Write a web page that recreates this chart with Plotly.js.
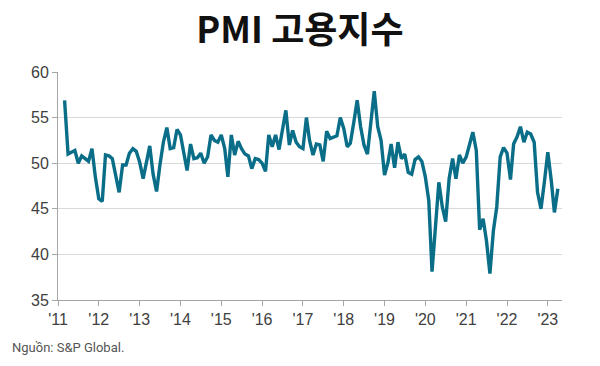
<!DOCTYPE html>
<html>
<head>
<meta charset="utf-8">
<script src="https://cdn.plot.ly/plotly-3.0.1.min.js"></script>
<style>
html,body{margin:0;padding:0;background:#fff;}
#chart{width:600px;height:366px;}
</style>
</head>
<body>
<div id="chart"></div>
<script>
// Monthly PMI employment index, starting March 2011
const startYear = 2011;
const startMonth = 3; // March
const values = [
  56.9, 51.0, 51.2, 51.4, 50.0, 50.8, 50.5, 50.2, 51.6, 48.5,
  46.1, 45.8, 50.9, 50.8, 50.5, 48.6, 46.8, 49.8, 49.8, 51.1, 51.6, 51.3, 50.1, 48.3,
  50.0, 51.9, 48.8, 46.9, 49.8, 52.3, 53.9, 51.6, 51.7, 53.7, 53.1, 51.2,
  49.2, 52.1, 50.5, 50.6, 51.1, 50.0, 50.7, 53.1, 52.5, 52.3, 53.1, 51.6,
  48.5, 53.1, 50.9, 52.4, 51.6, 51.0, 50.8, 49.4, 50.5, 50.4, 50.0, 49.1,
  53.1, 51.8, 53.1, 51.5, 53.5, 55.8, 52.0, 53.6, 52.3, 51.8, 51.6, 55.0,
  52.5, 50.9, 52.1, 52.0, 50.2, 53.5, 52.7, 52.8, 53.0, 55.0, 53.8, 51.8,
  52.2, 54.5, 56.9, 54.0, 52.0, 51.0, 54.8, 57.9, 54.0, 52.5, 48.7, 50.1,
  52.1, 49.5, 52.3, 50.5, 51.0, 49.0, 48.8, 50.4, 50.7, 50.2, 48.5, 45.9,
  38.1, 43.5, 47.9, 45.2, 43.6, 48.3, 50.5, 48.3, 50.9, 50.0, 50.7, 52.1,
  53.4, 51.4, 42.7, 43.9, 41.5, 37.9, 42.6, 45.2, 50.7, 51.7, 51.1, 48.2,
  52.1, 52.9, 54.0, 52.3, 53.4, 53.2, 52.3, 46.8, 45.0, 47.9, 51.2, 48.1,
  44.6, 47.2
];
const tickYears = [2011,2012,2013,2014,2015,2016,2017,2018,2019,2020,2021,2022,2023];
const tickLabels = ["'11","'12","'13","'14","'15","'16","'17","'18","'19","'20","'21","'22","'23"];
const yTicks = [35,40,45,50,55,60];

function monthDate(i){
  const m0 = startMonth - 1 + i;
  const y = startYear + Math.floor(m0/12);
  const m = (m0 % 12) + 1;
  return y + '-' + String(m).padStart(2,'0') + '-01';
}
const dates = values.map((v,i)=>monthDate(i));
const tickVals = tickYears.map(y=>y+'-01-01');

const trace = {
  x: dates, y: values, type: 'scatter', mode: 'lines',
  line: {color: '#0a6e88', width: 3.4},
  hoverinfo: 'x+y'
};

const layout = {
  width: 600, height: 366,
  margin: {l: 58, r: 38, t: 72, b: 66},
  paper_bgcolor: '#ffffff', plot_bgcolor: '#ffffff',
  showlegend: false,
  title: {
    text: '<b>PMI 고용지수</b>',
    font: {family: 'Noto Sans CJK KR', size: 36, color: '#111111'},
    x: 0.5, xanchor: 'center', y: 0.918, yanchor: 'middle'
  },
  xaxis: {
    type: 'date',
    range: ['2011-01-01', '2023-05-08'],
    tickmode: 'array', tickvals: tickVals, ticktext: tickLabels,
    showgrid: false, zeroline: false,
    showline: true, linecolor: '#a6a6a6', linewidth: 1,
    ticks: 'outside', ticklen: 5, tickcolor: '#a6a6a6',
    tickfont: {family: 'Liberation Sans, Arial, sans-serif', size: 16, color: '#404040'}
  },
  yaxis: {
    range: [35, 60],
    tickmode: 'array', tickvals: yTicks,
    showgrid: true, gridcolor: '#d9d9d9', gridwidth: 1,
    zeroline: false,
    showline: true, linecolor: '#a6a6a6', linewidth: 1,
    ticks: 'outside', ticklen: 5, tickcolor: '#a6a6a6',
    tickfont: {family: 'Liberation Sans, Arial, sans-serif', size: 16, color: '#404040'}
  },
  annotations: [{
    text: 'Nguồn: S&P Global.',
    xref: 'paper', yref: 'paper',
    x: -0.095, y: -0.21, xanchor: 'left', yanchor: 'middle',
    showarrow: false,
    font: {family: 'Roboto, Liberation Sans, sans-serif', size: 13, color: '#555555'}
  }]
};

Plotly.newPlot('chart', [trace], layout, {displayModeBar: false, staticPlot: true});
</script>
</body>
</html>
